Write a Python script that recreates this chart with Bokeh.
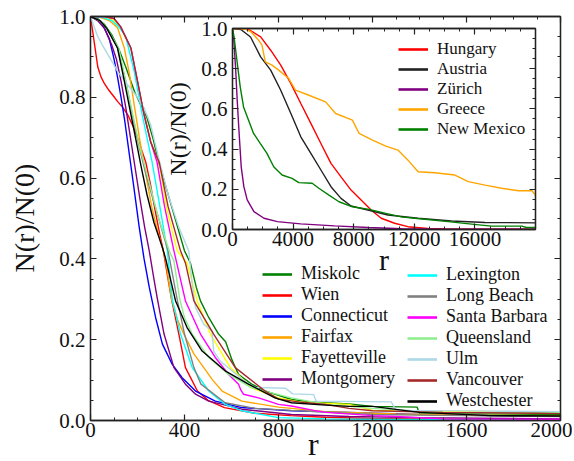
import numpy as np
from bokeh.plotting import figure
from bokeh.models import (FixedTicker, LinearAxis, Legend, LegendItem, Div,
                          PrintfTickFormatter, CustomJSTickFormatter, Range1d, GridBox)
from bokeh.embed import file_html
from bokeh.resources import INLINE

FONT = "Liberation Serif"

# ---------------- main panel data (r, N(r)/N(0)) ----------------
miskolc_r = [0, 30, 60, 90, 120, 150, 190, 240, 265, 290, 320, 345, 375, 400, 425, 450, 468, 503, 545, 575, 602, 630, 686, 743, 800, 855, 950, 1100, 1200, 1390, 1400, 2000]
miskolc_n = [1.0, 0.995, 0.98, 0.955, 0.92, 0.875, 0.81, 0.75, 0.70, 0.64, 0.58, 0.53, 0.47, 0.42, 0.39, 0.33, 0.296, 0.255, 0.214, 0.195, 0.15, 0.114, 0.09, 0.073, 0.062, 0.052, 0.045, 0.041, 0.035, 0.033, 0.017, 0.015]

wien_r = [0, 10, 20, 31, 45, 60, 75, 95, 115, 137, 160, 180, 200, 220, 235, 255, 275, 295, 310, 330, 345, 376, 404, 455, 500, 570, 700, 850, 1000, 1200, 1500, 2000]
wien_n = [1.0, 0.96, 0.92, 0.875, 0.85, 0.833, 0.82, 0.805, 0.79, 0.775, 0.755, 0.73, 0.70, 0.665, 0.64, 0.585, 0.52, 0.46, 0.42, 0.35, 0.30, 0.214, 0.131, 0.073, 0.05, 0.032, 0.018, 0.012, 0.008, 0.005, 0.003, 0.002]

connecticut_r = [0, 40, 60, 80, 100, 115, 130, 145, 165, 185, 207, 228, 250, 277, 306, 348, 390, 447, 531, 644, 855, 1100, 1400, 1700, 2000]
connecticut_n = [1.0, 0.99, 0.97, 0.945, 0.895, 0.85, 0.80, 0.745, 0.66, 0.575, 0.48, 0.40, 0.33, 0.255, 0.189, 0.139, 0.106, 0.073, 0.048, 0.032, 0.024, 0.02, 0.015, 0.012, 0.011]

fairfax_r = [0, 40, 80, 115, 144, 165, 185, 208, 235, 260, 285, 310, 320, 345, 370, 397, 440, 482, 520, 560, 644, 800, 1000, 1300, 1600, 2000]
fairfax_n = [1.0, 0.998, 0.99, 0.972, 0.922, 0.86, 0.785, 0.70, 0.61, 0.53, 0.47, 0.42, 0.395, 0.30, 0.25, 0.214, 0.165, 0.131, 0.10, 0.073, 0.048, 0.033, 0.022, 0.016, 0.013, 0.012]

fayetteville_r = [0, 60, 100, 130, 172, 200, 228, 256, 280, 292, 322, 369, 411, 454, 510, 595, 686, 800, 900, 1100, 1200, 1400, 2000]
fayetteville_n = [1.0, 1.0, 0.99, 0.97, 0.92, 0.84, 0.757, 0.69, 0.655, 0.64, 0.53, 0.42, 0.39, 0.296, 0.214, 0.131, 0.081, 0.056, 0.045, 0.04, 0.025, 0.024, 0.02]

montgomery_r = [0, 30, 60, 90, 110, 130, 150, 170, 190, 210, 230, 250, 270, 285, 313, 355, 404, 447, 503, 644, 855, 1100, 1400, 2000]
montgomery_n = [1.0, 0.99, 0.97, 0.93, 0.895, 0.84, 0.775, 0.70, 0.625, 0.55, 0.48, 0.42, 0.35, 0.30, 0.214, 0.131, 0.09, 0.065, 0.048, 0.028, 0.015, 0.01, 0.007, 0.004]

lexington_r = [0, 50, 90, 120, 150, 186, 220, 262, 295, 327, 348, 383, 433, 503, 573, 644, 800, 1000, 1500, 2000]
lexington_n = [1.0, 0.998, 0.99, 0.975, 0.95, 0.864, 0.757, 0.64, 0.53, 0.42, 0.30, 0.214, 0.131, 0.073, 0.04, 0.024, 0.007, 0.004, 0.002, 0.001]

longbeach_r = [0, 40, 70, 115, 150, 178, 208, 240, 290, 330, 370, 400, 440, 470, 573, 700, 855, 1200, 1600, 2000]
longbeach_n = [1.0, 0.99, 0.97, 0.922, 0.84, 0.757, 0.675, 0.60, 0.50, 0.42, 0.296, 0.214, 0.131, 0.09, 0.044, 0.03, 0.025, 0.015, 0.012, 0.01]

santabarbara_r = [0, 60, 100, 128, 172, 200, 228, 256, 283, 315, 355, 404, 468, 531, 588, 630, 640, 651, 715, 800, 855, 950, 1000, 1200, 1300, 1500, 2000]
santabarbara_n = [1.0, 1.0, 0.995, 0.975, 0.922, 0.84, 0.757, 0.69, 0.64, 0.53, 0.42, 0.296, 0.214, 0.156, 0.114, 0.09, 0.075, 0.065, 0.056, 0.04, 0.036, 0.025, 0.02, 0.012, 0.01, 0.004, 0.003]

queensland_r = [0, 40, 70, 120, 150, 180, 210, 245, 290, 335, 355, 380, 400, 433, 503, 588, 686, 855, 1000, 1200, 1500, 2000]
queensland_n = [1.0, 0.99, 0.97, 0.922, 0.84, 0.757, 0.675, 0.60, 0.50, 0.42, 0.395, 0.30, 0.255, 0.214, 0.156, 0.114, 0.081, 0.056, 0.04, 0.03, 0.02, 0.019]

ulm_r = [0, 15, 31, 50, 73, 95, 115, 140, 158, 180, 200, 228, 256, 290, 330, 376, 418, 433, 447, 482, 517, 524, 552, 602, 660, 700, 830, 860, 950, 960, 1280, 1300, 2000]
ulm_n = [1.0, 0.975, 0.95, 0.93, 0.907, 0.885, 0.864, 0.845, 0.831, 0.815, 0.80, 0.774, 0.732, 0.65, 0.56, 0.478, 0.42, 0.337, 0.28, 0.238, 0.222, 0.172, 0.147, 0.123, 0.095, 0.082, 0.08, 0.066, 0.064, 0.048, 0.046, 0.025, 0.022]

vancouver_r = [0, 60, 100, 128, 172, 200, 228, 256, 280, 292, 330, 383, 404, 440, 524, 616, 743, 800, 900, 1000, 1100, 1200, 1500, 1900, 2000]
vancouver_n = [1.0, 1.0, 0.995, 0.975, 0.922, 0.84, 0.757, 0.69, 0.655, 0.64, 0.53, 0.42, 0.39, 0.296, 0.214, 0.131, 0.073, 0.053, 0.045, 0.04, 0.03, 0.024, 0.02, 0.018, 0.017]

westchester_r = [0, 40, 70, 115, 144, 172, 200, 214, 240, 270, 305, 320, 362, 411, 475, 573, 672, 785, 855, 1000, 1100, 1200, 1400, 1700, 2000]
westchester_n = [1.0, 0.99, 0.97, 0.922, 0.84, 0.757, 0.675, 0.633, 0.56, 0.49, 0.43, 0.40, 0.296, 0.23, 0.172, 0.123, 0.09, 0.056, 0.044, 0.038, 0.035, 0.035, 0.02, 0.012, 0.011]

main_names = ["Miskolc", "Wien", "Connecticut", "Fairfax", "Fayetteville", "Montgomery",
              "Lexington", "Long Beach", "Santa Barbara", "Queensland", "Ulm", "Vancouver", "Westchester"]
main_colors = ["#008000", "#ff0000", "#0000ff", "#ffa500", "#ffff00", "#800080",
               "#00ffff", "#808080", "#ff00ff", "#90ee90", "#add8e6", "#a52a2a", "#000000"]
main_r = [miskolc_r, wien_r, connecticut_r, fairfax_r, fayetteville_r, montgomery_r,
          lexington_r, longbeach_r, santabarbara_r, queensland_r, ulm_r, vancouver_r, westchester_r]
main_n = [miskolc_n, wien_n, connecticut_n, fairfax_n, fayetteville_n, montgomery_n,
          lexington_n, longbeach_n, santabarbara_n, queensland_n, ulm_n, vancouver_n, westchester_n]

main_xticks = [0, 400, 800, 1200, 1600, 2000]
main_xminor = list(range(0, 2001, 100))
yticks = [0.0, 0.2, 0.4, 0.6, 0.8, 1.0]
yminor = [i * 0.05 for i in range(21)]

# ---------------- inset data ----------------
hungary_r = [0, 800, 1190, 1857, 2520, 3183, 3846, 4509, 5172, 5836, 6500, 7162, 7825, 8488, 9150, 9814, 10700, 11580, 12900, 14000, 16000, 20000]
hungary_n = [1.0, 1.0, 0.99, 0.958, 0.892, 0.818, 0.727, 0.627, 0.528, 0.428, 0.329, 0.262, 0.196, 0.147, 0.097, 0.056, 0.031, 0.014, 0.005, 0.003, 0.002, 0.002]

austria_r = [0, 550, 1190, 1857, 2520, 3183, 3846, 4509, 5172, 5836, 6500, 7162, 7825, 8930, 10260, 12250, 14460, 16670, 20000]
austria_n = [1.0, 0.995, 0.958, 0.859, 0.793, 0.693, 0.578, 0.461, 0.379, 0.296, 0.213, 0.155, 0.117, 0.097, 0.072, 0.056, 0.042, 0.035, 0.033]

zurich_r = [0, 88, 200, 310, 420, 575, 750, 970, 1415, 2080, 2960, 4500, 6740, 8950, 11170, 14000, 20000]
zurich_n = [1.0, 0.94, 0.81, 0.644, 0.50, 0.312, 0.213, 0.147, 0.089, 0.056, 0.039, 0.028, 0.018, 0.010, 0.004, 0.002, 0.002]

greece_r = [0, 800, 1200, 1724, 1945, 2166, 2608, 3050, 3714, 4156, 5040, 6146, 6808, 7913, 8355, 9240, 10124, 10920, 11584, 12250, 13350, 14680, 15560, 16670, 17770, 18880, 19770, 20000]
greece_n = [1.0, 0.998, 0.985, 0.942, 0.917, 0.834, 0.818, 0.793, 0.751, 0.693, 0.668, 0.635, 0.577, 0.544, 0.478, 0.445, 0.415, 0.395, 0.345, 0.287, 0.282, 0.271, 0.238, 0.221, 0.205, 0.193, 0.193, 0.17]

newmexico_r = [0, 100, 290, 510, 730, 1060, 1390, 1830, 2275, 2720, 3270, 3935, 4375, 5260, 5700, 6366, 7030, 7910, 9020, 10125, 11140, 12020, 14240, 15780, 17100, 19100, 19400, 20000]
newmexico_n = [1.0, 0.96, 0.843, 0.71, 0.61, 0.544, 0.478, 0.428, 0.379, 0.312, 0.271, 0.254, 0.233, 0.23, 0.205, 0.171, 0.138, 0.113, 0.10, 0.08, 0.063, 0.056, 0.039, 0.027, 0.017, 0.017, 0.01, 0.01]

inset_names = ["Hungary", "Austria", "Zürich", "Greece", "New Mexico"]
inset_colors = ["#ff0000", "#222222", "#800080", "#ffa500", "#008000"]
inset_r = [hungary_r, austria_r, zurich_r, greece_r, newmexico_r]
inset_n = [hungary_n, austria_n, zurich_n, greece_n, newmexico_n]

inset_xticks = [0, 4000, 8000, 12000, 16000]
inset_xminor = list(range(0, 20001, 1000))

AX = "#222222"
TXT = "#111111"


def style(p, xt, xm, yt, ym):
    p.grid.visible = False
    p.outline_line_color = AX
    p.outline_line_width = 1.3
    bottom = p.below[0]
    left = p.left[0]
    blank = CustomJSTickFormatter(code="return ''")
    top = LinearAxis(ticker=FixedTicker(ticks=xt, minor_ticks=xm), formatter=blank)
    right = LinearAxis(ticker=FixedTicker(ticks=yt, minor_ticks=ym), formatter=blank)
    for ax in (top, right):
        ax.major_label_text_font_size = "0px"
        ax.major_label_standoff = 0
    p.add_layout(top, "above")
    p.add_layout(right, "right")
    bottom.ticker = FixedTicker(ticks=xt, minor_ticks=xm)
    bottom.formatter = PrintfTickFormatter(format="%d")
    left.ticker = FixedTicker(ticks=yt, minor_ticks=ym)
    left.formatter = PrintfTickFormatter(format="%.1f")
    for ax in (bottom, left, top, right):
        ax.axis_line_color = AX
        ax.axis_line_width = 1.3
        ax.major_tick_line_color = AX
        ax.minor_tick_line_color = AX
        ax.major_tick_line_width = 1.2
        ax.minor_tick_line_width = 1.0
        ax.major_tick_in = 6
        ax.major_tick_out = 0
        ax.minor_tick_in = 3
        ax.minor_tick_out = 0
        ax.major_label_text_font = FONT
        ax.major_label_text_color = TXT
    for ax in (bottom, left):
        ax.major_label_text_font_size = "21px"
        ax.axis_label_text_font = FONT
        ax.axis_label_text_font_style = "normal"
        ax.axis_label_text_color = TXT
    bottom.major_label_standoff = 2
    left.major_label_standoff = 5
    return bottom, left


def make_legend(its, loc, size):
    lg = Legend(items=its, location=loc, orientation="vertical")
    lg.label_text_font = FONT
    lg.label_text_font_size = size
    lg.label_text_color = TXT
    lg.glyph_width = 30
    lg.glyph_height = 20
    lg.label_height = 20
    lg.label_standoff = 9
    lg.spacing = 0
    lg.padding = 0
    lg.margin = 0
    lg.border_line_alpha = 0
    lg.background_fill_alpha = 0
    return lg


NAN = np.array([np.nan])

# ---------------- main figure ----------------
p = figure(frame_width=470, frame_height=404, x_range=Range1d(0, 2000), y_range=Range1d(0, 1.0),
           output_backend="svg", toolbar_location=None,
           min_border_left=78, min_border_right=24, min_border_top=16, min_border_bottom=40)
style(p, main_xticks, main_xminor, yticks, yminor)

for name, col, xs, ys in zip(main_names, main_colors, main_r, main_n):
    p.line(xs, ys, line_color=col, line_width=1.4)

items = []
for name, col in zip(main_names, main_colors):
    proxy = p.line(x=NAN, y=NAN, line_color=col, line_width=2.6)
    items.append(LegendItem(label=name, renderers=[proxy]))

p.add_layout(make_legend(items[:6], (172, 31), "18px"))
p.add_layout(make_legend(items[6:], (317, 9), "18px"))
p.margin = 0
p.align = "start"

# axis titles of the main panel, laid over the figure's borders
xlab = Div(text="<span style=\"font-family: 'Liberation Serif'; font-size: 32px; "
                "line-height: 30px; color: #111111;\">r</span>",
           width=20, height=30, margin=(429, 0, 0, 308), align="start")
ylab = Div(text="<div style=\"width: 160px; height: 34px; line-height: 34px; text-align: center; "
                "font-family: 'Liberation Serif'; font-size: 28px; color: #111111; white-space: nowrap; "
                "transform-origin: 0 0; transform: translate(0px, 160px) rotate(-90deg);\">N(r)/N(0)</div>",
           width=160, height=160, margin=(138, 0, 0, 8), align="start")

# ---------------- inset figure ----------------
ins = figure(frame_width=303, frame_height=201, x_range=Range1d(0, 20000), y_range=Range1d(0, 1.0),
             output_backend="svg", toolbar_location=None,
             min_border_left=90, min_border_right=5, min_border_top=12, min_border_bottom=42)
ins.background_fill_color = "white"
ins.border_fill_alpha = 0
ib, il = style(ins, inset_xticks, inset_xminor, yticks, yminor)
ib.axis_label = "r"
ib.axis_label_text_font_size = "30px"
ib.axis_label_standoff = -6
il.axis_label = "N(r)/N(0)"
il.axis_label_text_font_size = "24px"
il.axis_label_standoff = 7

for name, col, xs, ys in zip(inset_names, inset_colors, inset_r, inset_n):
    ins.line(xs, ys, line_color=col, line_width=1.4)
iitems = []
for name, col in zip(inset_names, inset_colors):
    proxy = ins.line(x=NAN, y=NAN, line_color=col, line_width=2.6)
    iitems.append(LegendItem(label=name, renderers=[proxy]))
ins.add_layout(make_legend(iitems, (166, 90), "17px"))

ins.margin = (12, 0, 0, 142)
ins.align = "start"

layout = GridBox(children=[(p, 0, 0), (ins, 0, 0), (xlab, 0, 0), (ylab, 0, 0)])

open("out.html", "w").write(file_html(layout, INLINE))
